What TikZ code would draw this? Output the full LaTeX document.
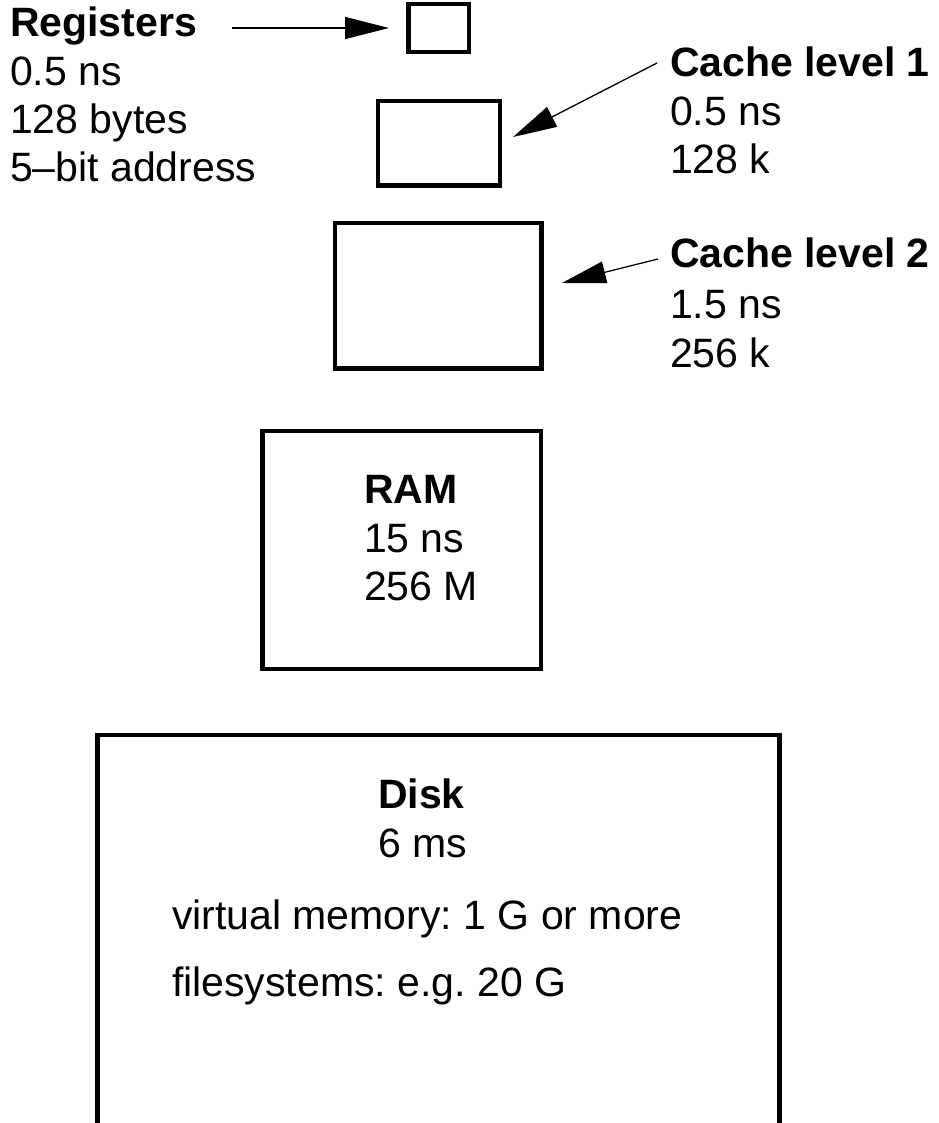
\documentclass[tikz,border=0pt]{standalone}
\usepackage{fontspec}
\setmainfont{Liberation Sans}
\usetikzlibrary{arrows.meta}
\frenchspacing

\begin{document}
\begin{tikzpicture}[x=1pt,y=-1pt,
  membox/.style={draw, line width=4.5pt, rectangle, inner sep=0pt, outer sep=0pt},
  lbl/.style={anchor=base west, inner sep=0pt, outer sep=0pt,
              font=\fontsize{41}{48}\selectfont},
  head/.style={lbl, font=\fontsize{41}{48}\selectfont\bfseries},
  pointer/.style={line width=1.3pt, -{Triangle[length=44pt,width=22pt]}}]

  \useasboundingbox (0,0) rectangle (938,1123);

  % storage levels, from fastest to slowest
  \node[membox, minimum width=60.5pt,  minimum height=48pt]    (reg)  at (438.75,28)    {};
  \node[membox, minimum width=122pt,   minimum height=84.5pt]  (c1)   at (439,143.25)   {};
  \node[membox, minimum width=206.5pt, minimum height=145.5pt] (c2)   at (438.25,295.75) {};
  \node[membox, minimum width=278.5pt, minimum height=238pt]   (ram)  at (401.75,550)   {};
  \node[membox, minimum width=682pt,   minimum height=390pt]   (disk) at (438.5,930)    {};

  % registers
  \node[head] (regT) at (10,37)  {Registers};
  \node[lbl]  (regA) at (10,86)  {0.5 ns};
  \node[lbl]  (regB) at (10,134) {128 bytes};
  \node[lbl]  (regC) at (10,182) {5–bit address};

  % first-level cache
  \node[head] (c1T) at (670,77)  {Cache level 1};
  \node[lbl]  (c1A) at (670,126) {0.5 ns};
  \node[lbl]  (c1B) at (670,174) {128 k};

  % second-level cache
  \node[head] (c2T) at (670,267) {Cache level 2};
  \node[lbl]  (c2A) at (670,318) {1.5 ns};
  \node[lbl]  (c2B) at (670,367) {256 k};

  % main memory
  \node[head] (ramT) at (364,503) {RAM};
  \node[lbl]  (ramA) at (364,552) {15 ns};
  \node[lbl]  (ramB) at (364,600) {256 M};

  % disk
  \node[head] (diskT) at (378,808) {Disk};
  \node[lbl]  (diskA) at (378,857) {6 ms};
  \node[lbl]  (diskB) at (172,929) {virtual memory: 1 G or more};
  \node[lbl]  (diskC) at (172,996) {filesystems: e.g. 20 G};

  % pointers from the labels to their boxes
  \coordinate (regTail) at (232,28);
  \coordinate (regTip)  at (389,28);
  \coordinate (c1Tail)  at (657,63);
  \coordinate (c1Tip)   at (513,137);
  \coordinate (c2Tail)  at (658,259);
  \coordinate (c2Tip)   at (562,283);

  \draw[pointer] (regTail) -- (regTip);
  \draw[pointer] (c1Tail) -- (c1Tip);
  \draw[pointer] (c2Tail) -- (c2Tip);
\end{tikzpicture}
\end{document}
